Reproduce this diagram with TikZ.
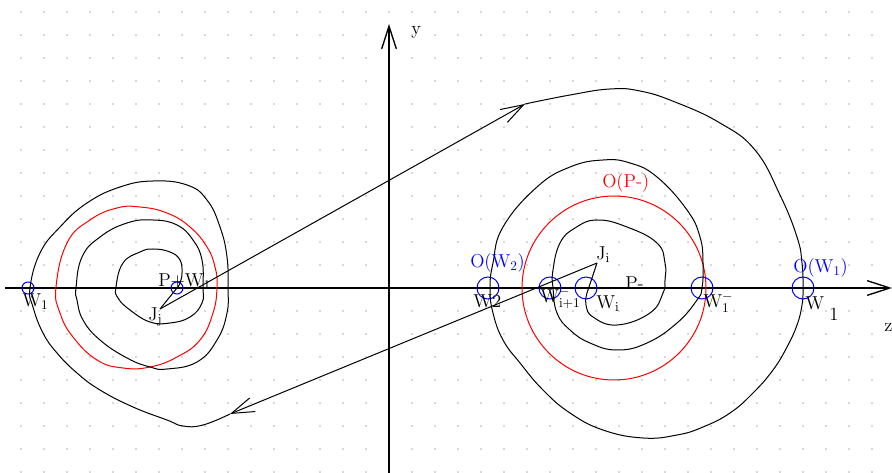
\documentclass[tikz,border=0pt]{standalone}
\usetikzlibrary{arrows.meta}
\begin{document}
\begin{tikzpicture}[x=0.75pt,y=-0.75pt,
  traj/.style={line width=0.75pt, black},
  redline/.style={line width=0.75pt, red},
  axisline/.style={line width=1pt, black},
  barb/.style={-{Straight Barb[length=17pt,width=11pt]}},
  lbl/.style={font=\fontsize{14}{16}\selectfont, inner sep=0pt, anchor=base west},
  mk/.style={draw=blue, line width=0.75pt, circle, inner sep=0pt, minimum size=#1},
]
\useasboundingbox (0,0) rectangle (892,473);
\fill[white] (0,0) rectangle (892,473);
% dot grid
\foreach \i in {-16,...,21}{
  \foreach \j in {-12,...,8}{
    \fill[black!65] ({389+23*\i},{288+23*\j}) circle[radius=0.7];
  }
}
% axes
\coordinate (zs) at (5,288);
\coordinate (ze) at (892,288);
\coordinate (ys) at (389,473);
\coordinate (ye) at (389,24);
\draw[axisline,barb] (zs) -- (ze);
\draw[axisline,barb] (ys) -- (ye);
% key points
\coordinate (Jj) at (160,309);
\coordinate (Ji) at (597,263);
\coordinate (T1) at (525,104);
\coordinate (T2) at (230,414);
\coordinate (Rend) at (587,293);
% red level curves
\draw[redline] (614,288) circle[radius=92];
\draw[redline] plot[smooth cycle, tension=0.75] coordinates {(56,287) (60,313) (73,337) (97,360) (123,368) (150,367) (177,357) (200,340) (213,313) (217,287) (215,267) (207,247) (190,227) (167,213) (140,207) (117,208) (90,220) (67,243)};
% markers
\node[mk=9pt] (mW1L) at (28,288) {};
\node[mk=9pt] (mPW) at (177,288) {};
\node[mk=16.5pt] (mW2) at (488,288) {};
\node[mk=16.5pt] (mWi1) at (550,288) {};
\node[mk=16.5pt] (mWi) at (586,288) {};
\node[mk=16.5pt] (mWb1) at (702,288) {};
\node[mk=16.5pt] (mW1R) at (803,288) {};
% transfer lines
\draw[traj,barb] (Jj) -- (T1);
\draw[traj,barb] (Ji) -- (T2);
% left spiral
\draw[traj] plot[smooth, tension=0.75] coordinates {(230,414) (203,425) (183,426) (167,420) (133,407) (100,390) (77,373) (57,353) (43,333) (33,307) (30,288) (40,253) (60,227) (87,203) (120,187) (153,181) (187,185) (207,200) (220,227) (227,257) (228,288) (227,313) (217,340) (197,362) (167,369) (150,367) (127,358) (100,340) (83,320) (77,300) (76,288) (82,257) (100,237) (127,223) (153,220) (177,225) (193,240) (202,260) (203,287) (202,303) (190,317) (170,323) (150,322) (130,310) (118,298) (116,287) (123,263) (140,252) (153,249) (170,252) (180,260) (182,273) (180,283) (177,288)};
\draw[traj] (mPW.center) -- (Jj);
% right spiral
\draw[traj] plot[smooth, tension=0.75] coordinates {(525,104) (570,95) (610,89) (640,91) (675,102) (720,123) (755,150) (780,195) (797,237) (802,263) (803,288) (802,305) (797,325) (787,347) (773,370) (753,393) (730,413) (703,427) (677,435) (643,438) (603,430) (570,413) (543,390) (520,363) (503,340) (493,313) (490,288) (493,263) (503,227) (537,187) (570,167) (603,160) (630,163) (657,177) (687,210) (700,237) (703,263) (702,288) (697,300) (677,323) (647,343) (617,350) (590,343) (570,330) (557,313) (553,288) (553,270) (560,243) (575,228) (597,220) (627,227) (657,243) (665,263) (665,280) (663,293) (650,313) (617,325) (593,317) (586,305) (587,293)};
\draw[traj] (Rend) -- (Ji);
% labels
\node[lbl] (ly) at (411,35) {y};
\node[lbl] (lz) at (884,332) {z};
\node[lbl] (lW1L) at (22,307) {W$_1$};
\node[lbl] (lPW) at (158,287) {P+W$_1$};
\node[lbl] (lJj) at (148,321) {J$_{\mathrm{j}}$};
\node[lbl,text=blue] (lOW2) at (470,268) {O(W$_2$)};
\node[lbl] (lW2) at (473,308) {W2};
\node[lbl] (lWi1) at (540,303) {W$^{-}_{\mathrm{i+1}}$};
\node[lbl] (lWi) at (596,309) {W$_{\mathrm{i}}$};
\node[lbl] (lJi) at (596,260) {J$_{\mathrm{i}}$};
\node[lbl] (lPm) at (625,290) {P-};
\node[lbl,text=red] (lOP) at (602,188) {O(P-)};
\node[lbl] (lWb1) at (703,308) {W$^{-}_{1}$};
\node[lbl,text=blue] (lOW1) at (793,273) {O(W$_1$)};
\node[lbl] (lW1R) at (805,310) {W\hspace{4pt}\raisebox{-8pt}{1}};
\end{tikzpicture}
\end{document}
